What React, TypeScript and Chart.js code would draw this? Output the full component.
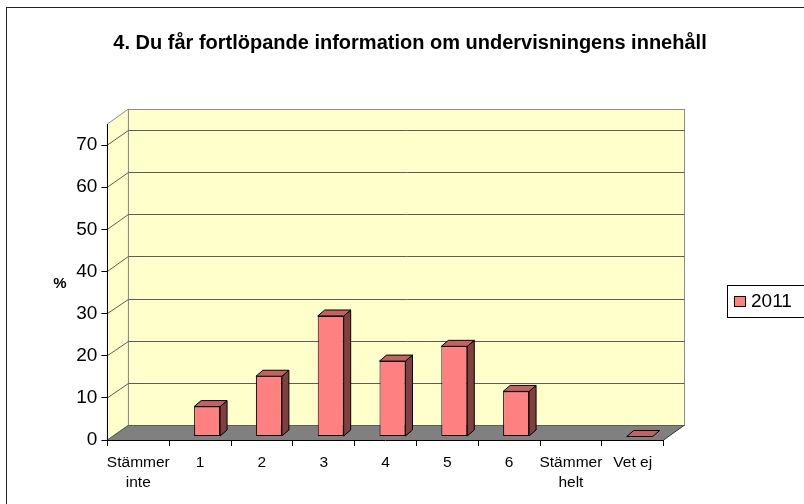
import React, { useEffect, useRef } from 'react';
import { Chart, registerables } from 'chart.js';

Chart.register(...registerables);

// ---- data ----
const chartTitle = '4. Du får fortlöpande information om undervisningens innehåll';
const categories: (string | string[])[] = [['Stämmer', 'inte'], '1', '2', '3', '4', '5', '6', ['Stämmer', 'helt'], 'Vet ej'];
const seriesLabel = '2011';
const series2011: (number | null)[] = [null, 7.1, 14.3, 28.6, 17.9, 21.4, 10.7, null, 0];
const yTickValues = [0, 10, 20, 30, 40, 50, 60, 70];
const yAxisTitle = '%';

// ---- style ----
const FONT = '"Liberation Sans", Arial, sans-serif';
const DEPTH_X = 21;
const DEPTH_Y = -15;
const BAR_SHIFT_X = 7;
const BAR_SHIFT_Y = -3.5;
const BAR_DX = 7;
const BAR_DY = -6;
const WALL = '#FFFFCC';
const FLOOR = '#808080';
const GRID = '#5e5e56';
const WALL_EDGE = '#8c8c8c';
const BAR_FRONT = '#FF8080';
const BAR_TOP = '#C46262';
const BAR_SIDE = '#804040';

const threeD = {
  id: 'threeD',
  beforeDraw(chart: any) {
    const { ctx, chartArea, scales } = chart;
    const y = scales.y;
    const L = chartArea.left;
    const R = chartArea.right;
    const B = chartArea.bottom;
    const T = chartArea.top;
    ctx.save();
    // outer frame
    ctx.strokeStyle = '#222';
    ctx.lineWidth = 1;
    ctx.strokeRect(6.5, 7.5, 900, 600);
    // left wall
    ctx.fillStyle = WALL;
    ctx.beginPath();
    ctx.moveTo(L, B);
    ctx.lineTo(L, T);
    ctx.lineTo(L + DEPTH_X, T + DEPTH_Y);
    ctx.lineTo(L + DEPTH_X, B + DEPTH_Y);
    ctx.closePath();
    ctx.fill();
    ctx.strokeStyle = WALL_EDGE;
    ctx.stroke();
    // back wall
    ctx.fillStyle = WALL;
    ctx.fillRect(L + DEPTH_X, T + DEPTH_Y, R - L, B - T);
    ctx.strokeStyle = WALL_EDGE;
    ctx.strokeRect(Math.round(L + DEPTH_X) + 0.5, Math.round(T + DEPTH_Y) + 0.5, Math.round(R - L), Math.round(B - T));
    // floor
    ctx.fillStyle = FLOOR;
    ctx.beginPath();
    ctx.moveTo(L, B);
    ctx.lineTo(R, B);
    ctx.lineTo(R + DEPTH_X, B + DEPTH_Y);
    ctx.lineTo(L + DEPTH_X, B + DEPTH_Y);
    ctx.closePath();
    ctx.fill();
    ctx.strokeStyle = '#333';
    ctx.beginPath();
    ctx.moveTo(R, B);
    ctx.lineTo(R + DEPTH_X, B + DEPTH_Y);
    ctx.stroke();
    // gridlines on walls
    ctx.strokeStyle = GRID;
    ctx.lineWidth = 1;
    yTickValues.forEach((v) => {
      const py = Math.round(y.getPixelForValue(v) + DEPTH_Y) + 0.5;
      const fy = y.getPixelForValue(v);
      ctx.beginPath();
      ctx.moveTo(L, fy);
      ctx.lineTo(L + DEPTH_X, py);
      ctx.lineTo(R + DEPTH_X, py);
      ctx.stroke();
    });
    ctx.restore();
  },
  beforeDatasetsDraw(chart: any) {
    chart.ctx.save();
    chart.ctx.translate(BAR_SHIFT_X, BAR_SHIFT_Y);
  },
  afterDatasetsDraw(chart: any) {
    const { ctx } = chart;
    chart.data.datasets.forEach((ds: any, di: number) => {
      const meta = chart.getDatasetMeta(di);
      meta.data.forEach((el: any, i: number) => {
        if (ds.data[i] === null || ds.data[i] === undefined) return;
        const { x, y, base, width } = el.getProps(['x', 'y', 'base', 'width'], true);
        const l = x - width / 2;
        const r = x + width / 2;
        ctx.lineWidth = 1;
        ctx.strokeStyle = '#000';
        ctx.lineJoin = 'round';
        // side face
        if (base - y > 0.5) {
          ctx.fillStyle = BAR_SIDE;
          ctx.beginPath();
          ctx.moveTo(r, y);
          ctx.lineTo(r + BAR_DX, y + BAR_DY);
          ctx.lineTo(r + BAR_DX, base + BAR_DY);
          ctx.lineTo(r, base);
          ctx.closePath();
          ctx.fill();
          ctx.stroke();
        }
        // top face
        ctx.fillStyle = BAR_TOP;
        ctx.beginPath();
        ctx.moveTo(l, y);
        ctx.lineTo(l + BAR_DX, y + BAR_DY);
        ctx.lineTo(r + BAR_DX, y + BAR_DY);
        ctx.lineTo(r, y);
        ctx.closePath();
        ctx.fill();
        ctx.stroke();
      });
    });
    ctx.restore();
  },
  afterDraw(chart: any) {
    const { ctx } = chart;
    ctx.save();
    // title
    ctx.fillStyle = '#000';
    ctx.font = `bold 20px ${FONT}`;
    ctx.textAlign = 'center';
    ctx.textBaseline = 'middle';
    ctx.fillText(chartTitle, 410, 43);
    // y axis title
    ctx.font = `bold 15px ${FONT}`;
    ctx.fillText(yAxisTitle, 60, 284);
    // legend
    ctx.strokeStyle = '#000';
    ctx.lineWidth = 1;
    ctx.strokeRect(727.5, 285.5, 100, 32);
    ctx.fillStyle = BAR_FRONT;
    ctx.fillRect(734.5, 296.5, 11, 10);
    ctx.strokeRect(734.5, 296.5, 11, 10);
    ctx.fillStyle = '#000';
    ctx.font = `19px ${FONT}`;
    ctx.textAlign = 'left';
    ctx.fillText(chart.data.datasets[0].label, 751, 302);
    ctx.restore();
  },
};

export default function App() {
  const ref = useRef<HTMLCanvasElement>(null);
  useEffect(() => {
    if (!ref.current) return;
    const chart = new Chart(ref.current, {
      type: 'bar',
      data: {
        labels: categories,
        datasets: [
          {
            label: seriesLabel,
            data: series2011,
            backgroundColor: BAR_FRONT,
            borderColor: '#000',
            borderWidth: 1,
            borderSkipped: false,
            categoryPercentage: 1,
            barPercentage: 0.42,
          },
        ],
      },
      options: {
        animation: false,
        responsive: false,
        devicePixelRatio: 1,
        layout: { padding: { left: 0, top: 124, right: 140.4, bottom: 0 } },
        plugins: {
          legend: { display: false },
          title: { display: false },
          tooltip: { enabled: false },
        },
        scales: {
          x: {
            offset: true,
            grid: { offset: true, drawOnChartArea: false, drawTicks: true, tickLength: 6, color: '#000' },
            border: { display: true, color: '#000' },
            ticks: {
              color: '#000',
              font: { family: FONT, size: 15.5, lineHeight: 1.33 },
              padding: 6,
              maxRotation: 0,
              autoSkip: false,
            },
            afterFit(scale: any) {
              scale.height = 64;
            },
          },
          y: {
            min: 0,
            max: 75,
            grid: { drawOnChartArea: false, drawTicks: true, tickLength: 6, color: '#000' },
            border: { display: true, color: '#000' },
            ticks: {
              stepSize: 10,
              includeBounds: false,
              color: '#000',
              padding: 4,
              font: { family: FONT, size: 19 },
              callback: (v: any) => (yTickValues.includes(Number(v)) ? String(v) : ''),
            },
            afterFit(scale: any) {
              scale.width = 107.4;
            },
          },
        },
      },
      plugins: [threeD],
    });
    return () => chart.destroy();
  }, []);
  return (
    <div style={{ position: 'fixed', left: 0, top: 0, width: 804, height: 504, background: '#fff' }}>
      <canvas ref={ref} width={804} height={504} />
    </div>
  );
}
